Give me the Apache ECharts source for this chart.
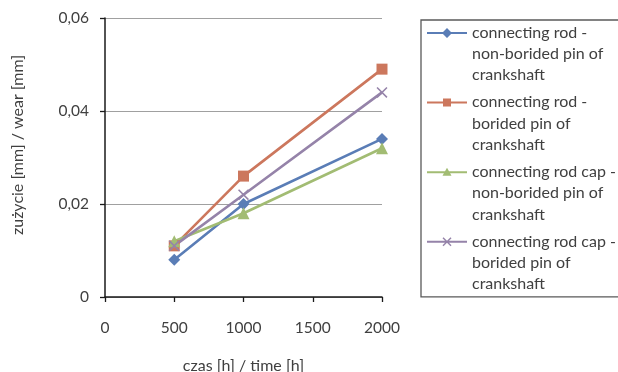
<!DOCTYPE html>
<html>
<head>
<meta charset="utf-8">
<script src="https://cdn.jsdelivr.net/npm/echarts@6/dist/echarts.min.js"></script>
<style>
  html, body { margin: 0; padding: 0; background: #fff; }
  #chart { width: 618px; height: 372px; }
</style>
</head>
<body>
<div id="chart"></div>
<script>
// time [h]
const hours = [500, 1000, 2000];

// wear [mm]
const rodPlain = [0.008, 0.020, 0.034];
const rodBorided = [0.011, 0.026, 0.049];
const capPlain = [0.012, 0.018, 0.032];
const capBorided = [0.011, 0.022, 0.044];

const seriesNames = [
  "connecting rod -\nnon-borided pin of\ncrankshaft",
  "connecting rod -\nborided pin of\ncrankshaft",
  "connecting rod cap -\nnon-borided pin of\ncrankshaft",
  "connecting rod cap -\nborided pin of\ncrankshaft",
];

const colors = ["#5a7db6", "#cc775d", "#a2bc73", "#9583a9"];
const font = "Lato";
const textColor = "#404040";

const crossPath = "path://M0,1 L1,0 L10,9 L9,10 Z M9,0 L10,1 L1,10 L0,9 Z";
const markers = ["diamond", "rect", "triangle", crossPath];
const markerSizes = [12, 11, 12, 11];

// legend icons: line + marker on the first text row of a 3-row item
const legendLine = "M0,0 M0,10 L40,10 L40,12 L0,12 Z M40,64 L40,64 Z ";
const legendIcons = [
  "path://" + legendLine + "M20,6 L25,11 L20,16 L15,11 Z",
  "path://" + legendLine + "M16,7 L24,7 L24,15 L16,15 Z",
  "path://" + legendLine + "M20,6.5 L24.5,14.5 L15.5,14.5 Z",
  "path://" + legendLine +
    "M15.5,7.5 L16.5,6.5 L24.5,14.5 L23.5,15.5 Z M23.5,6.5 L24.5,7.5 L16.5,15.5 L15.5,14.5 Z",
];

const values = [rodPlain, rodBorided, capPlain, capBorided];

const chart = echarts.init(document.getElementById("chart"), null, { renderer: "canvas" });

chart.setOption({
  animation: false,
  backgroundColor: "#fff",
  color: colors,
  grid: { left: 105, right: 236, top: 18, bottom: 75, outerBoundsMode: "none", containLabel: false },
  legend: {
    orient: "vertical",
    left: 421,
    top: 20,
    padding: [2, 40, 2, 6],
    itemGap: 5.6,
    itemWidth: 40,
    itemHeight: 64,
    borderColor: "#595959",
    borderWidth: 1.3,
    itemStyle: { borderWidth: 0 },
    textStyle: { fontFamily: font, fontSize: 16, lineHeight: 21.3, color: textColor },
    data: seriesNames.map((name, i) => ({ name, icon: legendIcons[i] })),
  },
  xAxis: {
    type: "value",
    min: 0,
    max: 2000,
    interval: 500,
    name: "czas [h] / time [h]",
    nameLocation: "middle",
    nameGap: 61,
    nameTextStyle: { fontFamily: font, fontSize: 16, color: textColor },
    axisLine: { show: true, lineStyle: { color: "#1a1a1a", width: 1.5 } },
    axisTick: { show: true, length: 5, lineStyle: { color: "#1a1a1a", width: 1.3 } },
    axisLabel: {
      fontFamily: font,
      fontSize: 15.5,
      color: textColor,
      margin: 23,
      formatter: (v) => String(v),
    },
    splitLine: { show: false },
  },
  yAxis: {
    type: "value",
    min: 0,
    max: 0.06,
    interval: 0.02,
    name: "zużycie [mm] / wear [mm]",
    nameLocation: "middle",
    nameGap: 79,
    nameTextStyle: { fontFamily: font, fontSize: 16, color: textColor, padding: [0, 0, 0, 25] },
    axisLine: { show: true, lineStyle: { color: "#1a1a1a", width: 1.5 } },
    axisTick: { show: true, length: 5, lineStyle: { color: "#1a1a1a", width: 1.3 } },
    axisLabel: {
      fontFamily: font,
      fontSize: 15.5,
      color: textColor,
      margin: 16,
      formatter: (v) => (v === 0 ? "0" : v.toFixed(2).replace(".", ",")),
    },
    splitLine: { show: true, lineStyle: { color: "#a0a0a0", width: 1.2 } },
  },
  series: values.map((vals, i) => ({
    name: seriesNames[i],
    type: "line",
    data: hours.map((h, j) => [h, vals[j]]),
    symbol: markers[i],
    symbolSize: markerSizes[i],
    showAllSymbol: true,
    lineStyle: { width: 2.6, color: colors[i] },
    itemStyle: { color: colors[i], borderWidth: 0 },
  })),
});
</script>
</body>
</html>
